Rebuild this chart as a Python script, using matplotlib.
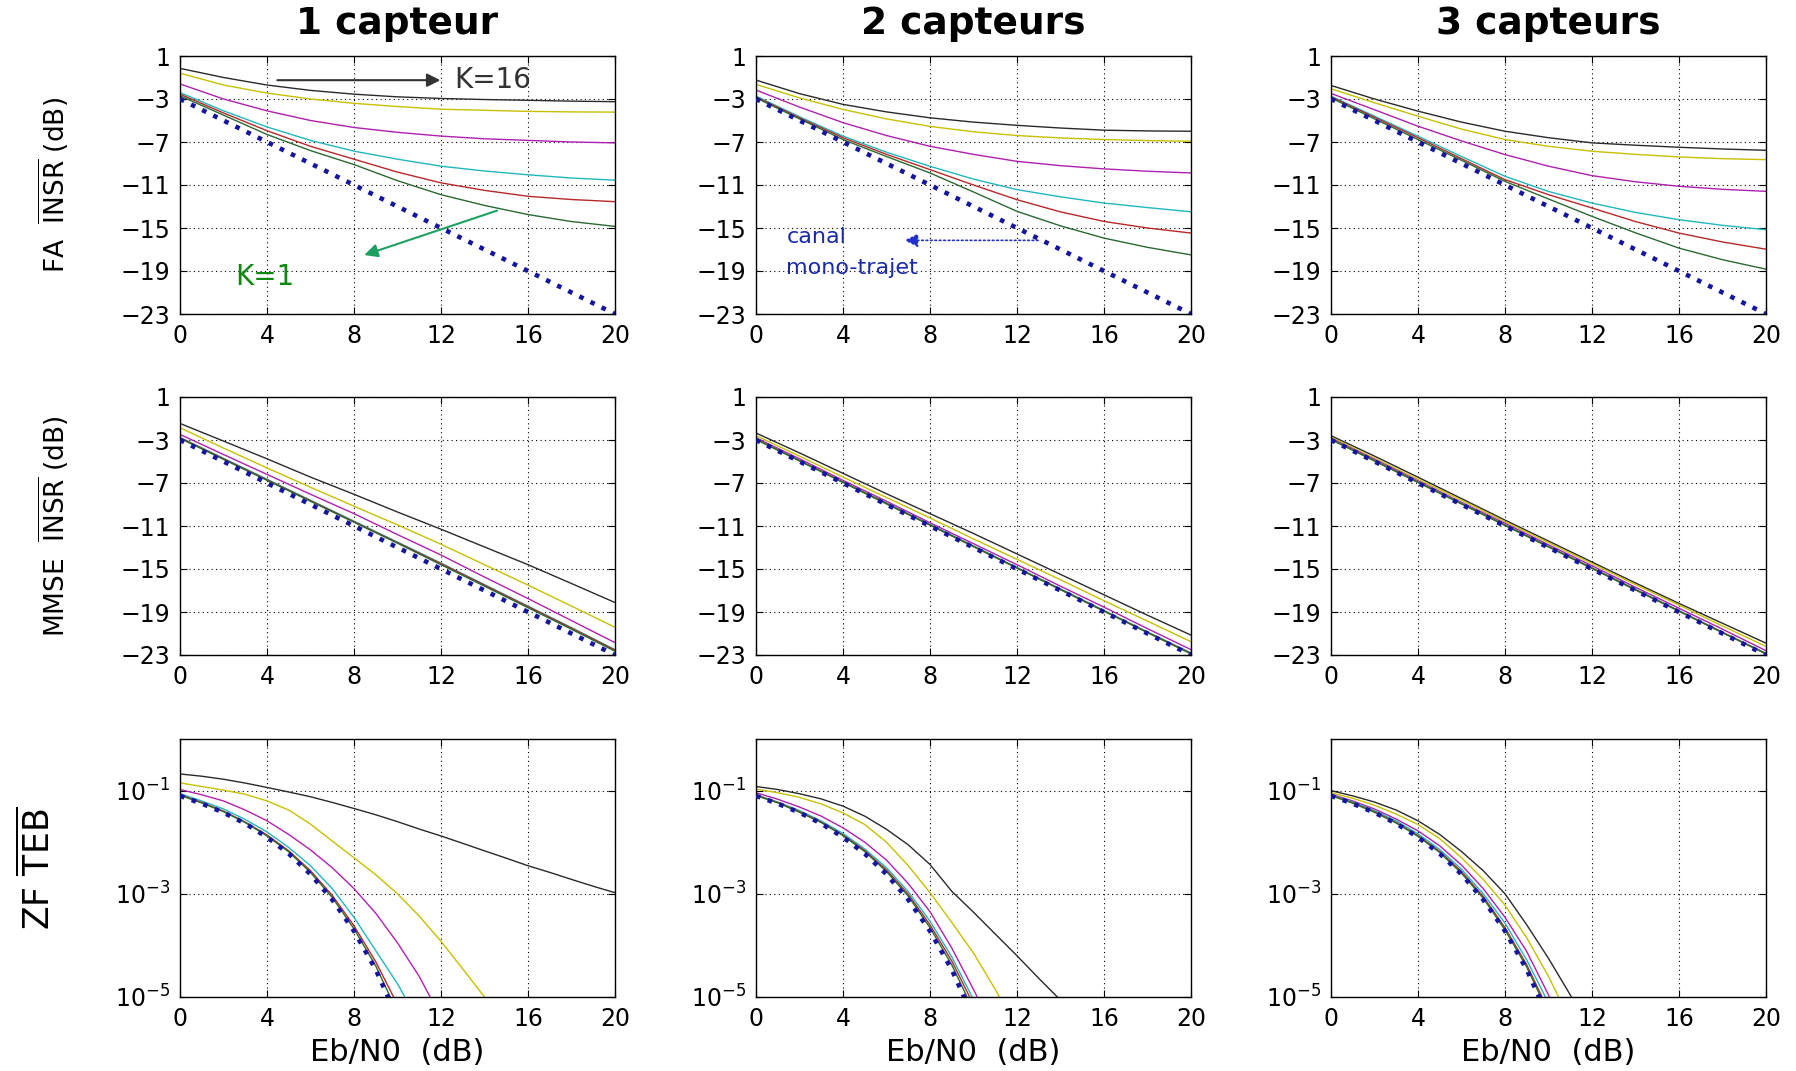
import matplotlib
matplotlib.use('Agg')
import matplotlib.pyplot as plt

plt.rcParams['font.family'] = ['DejaVu Sans']
plt.rcParams['mathtext.fontset'] = 'dejavusans'

# ---- data ----
titles = ['1 capteur', '2 capteurs', '3 capteurs']
curve_colors = ['#2a2a2a', '#c8c000', '#b020b0', '#20b8c0', '#b82828', '#2a6a30']  # K=16 ... K=1
mono_color = '#1515a0'

x_db = [0, 2, 4, 6, 8, 10, 12, 14, 16, 18, 20]
mono_x = [0, 20]
mono_db = [-3, -23]

# FA : INSR (dB), curves K=16 -> K=1
fa_1 = [
    [-0.15, -1.0, -1.7, -2.2, -2.55, -2.8, -2.95, -3.05, -3.12, -3.2, -3.25],
    [-0.6, -1.7, -2.45, -3.0, -3.4, -3.7, -3.95, -4.05, -4.15, -4.2, -4.22],
    [-1.6, -3.0, -4.1, -5.0, -5.65, -6.1, -6.45, -6.7, -6.85, -7.0, -7.08],
    [-2.4, -4.1, -5.6, -6.85, -7.85, -8.6, -9.25, -9.7, -10.05, -10.35, -10.55],
    [-2.55, -4.3, -5.95, -7.4, -8.6, -9.8, -10.8, -11.5, -12.05, -12.35, -12.55],
    [-2.7, -4.5, -6.3, -7.8, -9.1, -10.6, -11.9, -12.9, -13.75, -14.4, -14.85],
]
fa_2 = [
    [-1.24, -2.5, -3.5, -4.2, -4.75, -5.15, -5.45, -5.7, -5.9, -5.97, -6.0],
    [-1.64, -2.9, -3.97, -4.85, -5.55, -6.05, -6.4, -6.62, -6.77, -6.87, -6.93],
    [-2.17, -3.75, -5.2, -6.4, -7.4, -8.15, -8.8, -9.2, -9.5, -9.72, -9.88],
    [-2.73, -4.65, -6.46, -7.95, -9.26, -10.45, -11.43, -12.1, -12.68, -13.1, -13.49],
    [-2.8, -4.75, -6.6, -8.15, -9.57, -11.0, -12.37, -13.5, -14.39, -15.0, -15.47],
    [-2.9, -4.85, -6.77, -8.35, -9.88, -11.65, -13.45, -14.8, -15.94, -16.8, -17.5],
]
fa_3 = [
    [-1.74, -3.0, -4.13, -5.15, -6.0, -6.6, -7.08, -7.3, -7.49, -7.65, -7.77],
    [-2.05, -3.35, -4.6, -5.8, -6.77, -7.4, -7.86, -8.15, -8.39, -8.55, -8.64],
    [-2.48, -4.0, -5.53, -6.9, -8.17, -9.25, -10.13, -10.7, -11.12, -11.4, -11.59],
    [-2.73, -4.6, -6.46, -8.35, -10.19, -11.6, -12.68, -13.55, -14.23, -14.75, -15.16],
    [-2.8, -4.7, -6.6, -8.55, -10.5, -11.9, -13.14, -14.4, -15.47, -16.3, -16.97],
    [-2.9, -4.85, -6.77, -8.7, -10.66, -12.3, -13.92, -15.45, -16.87, -17.95, -18.83],
]

# MMSE : INSR (dB)
mmse_1 = [
    [-1.46, -3.1, -4.75, -6.45, -8.05, -9.7, -11.3, -12.95, -14.6, -16.35, -18.12],
    [-1.86, -3.75, -5.6, -7.4, -9.16, -10.9, -12.7, -14.6, -16.5, -18.45, -20.42],
    [-2.48, -4.35, -6.2, -8.05, -9.85, -11.8, -13.7, -15.75, -17.75, -19.8, -21.85],
    [-2.75, -4.7, -6.65, -8.6, -10.55, -12.5, -14.45, -16.45, -18.45, -20.45, -22.5],
    [-2.8, -4.75, -6.7, -8.65, -10.6, -12.55, -14.5, -16.5, -18.5, -20.5, -22.55],
    [-2.85, -4.8, -6.75, -8.7, -10.65, -12.6, -14.6, -16.6, -18.6, -20.6, -22.65],
]
mmse_2 = [
    [-2.35, -4.2, -6.1, -8.0, -9.85, -11.7, -13.6, -15.5, -17.4, -19.3, -21.15],
    [-2.6, -4.5, -6.45, -8.35, -10.25, -12.2, -14.1, -16.0, -17.95, -19.85, -21.76],
    [-2.8, -4.75, -6.75, -8.7, -10.7, -12.65, -14.6, -16.6, -18.55, -20.55, -22.5],
    [-2.9, -4.9, -6.9, -8.85, -10.85, -12.85, -14.85, -16.85, -18.85, -20.85, -22.8],
    [-2.92, -4.92, -6.92, -8.9, -10.9, -12.9, -14.9, -16.9, -18.9, -20.9, -22.85],
    [-2.95, -4.95, -6.95, -8.95, -10.92, -12.92, -14.92, -16.92, -18.92, -20.92, -22.9],
]
mmse_3 = [
    [-2.6, -4.5, -6.46, -8.45, -10.45, -12.4, -14.35, -16.3, -18.2, -20.05, -21.9],
    [-2.75, -4.7, -6.65, -8.6, -10.6, -12.55, -14.5, -16.45, -18.35, -20.3, -22.2],
    [-2.85, -4.8, -6.8, -8.8, -10.75, -12.75, -14.7, -16.7, -18.65, -20.6, -22.6],
    [-2.92, -4.9, -6.9, -8.88, -10.88, -12.88, -14.88, -16.88, -18.88, -20.88, -22.85],
    [-2.94, -4.93, -6.93, -8.92, -10.92, -12.92, -14.92, -16.92, -18.9, -20.9, -22.88],
    [-2.96, -4.95, -6.95, -8.95, -10.95, -12.95, -14.95, -16.95, -18.93, -20.93, -22.9],
]

# ZF : TEB, 1 dB steps from 0 dB
ber_x = list(range(21))
ber_mono = [0.079, 0.056, 0.0375, 0.023, 0.0125, 0.006, 0.0024, 7.7e-4, 1.9e-4, 3.4e-5, 3.9e-6]
ber_1 = [
    [0.21, 0.19, 0.166, 0.14, 0.115, 0.094, 0.076, 0.059, 0.045, 0.034, 0.025, 0.018, 0.0132,
     0.0095, 0.0068, 0.0049, 0.0035, 0.0026, 0.0019, 0.0014, 0.00105],
    [0.141, 0.12, 0.102, 0.085, 0.063, 0.042, 0.0224, 0.0105, 0.005, 0.00234, 0.001, 3.7e-4,
     1.2e-4, 3.5e-5, 1e-5, 2.6e-6],
    [0.105, 0.083, 0.063, 0.042, 0.026, 0.0141, 0.0071, 0.0032, 0.00126, 4.2e-4, 1.12e-4, 2.5e-5, 4.0e-6],
    [0.087, 0.063, 0.044, 0.0275, 0.0158, 0.0079, 0.0035, 0.00126, 3.5e-4, 7.9e-5, 1.8e-5, 3.2e-6],
    [0.083, 0.059, 0.04, 0.0245, 0.0138, 0.0068, 0.0028, 9.3e-4, 2.4e-4, 4.8e-5, 7.1e-6],
    [0.081, 0.0575, 0.039, 0.024, 0.0132, 0.0065, 0.0026, 8.5e-4, 2.1e-4, 4e-5, 5e-6],
]
ber_2 = [
    [0.12, 0.105, 0.087, 0.069, 0.05, 0.032, 0.0178, 0.0089, 0.0037, 0.00112, 4.4e-4, 1.66e-4,
     6.3e-5, 2.3e-5, 8.7e-6],
    [0.107, 0.091, 0.074, 0.055, 0.037, 0.022, 0.01, 0.0035, 0.00105, 2.8e-4, 7.1e-5, 1.4e-5, 2.5e-6],
    [0.091, 0.068, 0.048, 0.032, 0.019, 0.01, 0.0045, 0.00158, 4.5e-4, 8.9e-5, 1.4e-5, 2.0e-6],
    [0.083, 0.06, 0.041, 0.0257, 0.0148, 0.0074, 0.0032, 0.0011, 2.95e-4, 6e-5, 8.9e-6],
    [0.081, 0.059, 0.039, 0.0245, 0.0138, 0.0069, 0.0029, 9.8e-4, 2.5e-4, 5e-5, 7.1e-6],
    [0.08, 0.058, 0.038, 0.024, 0.0134, 0.0066, 0.0027, 9e-4, 2.2e-4, 4.2e-5, 5.5e-6],
]
ber_3 = [
    [0.1, 0.079, 0.06, 0.042, 0.026, 0.0141, 0.0066, 0.0028, 0.001, 2.5e-4, 5.6e-5, 1.1e-5, 2e-6],
    [0.091, 0.071, 0.052, 0.035, 0.022, 0.0117, 0.005, 0.0019, 6e-4, 1.4e-4, 2.5e-5, 3.5e-6],
    [0.085, 0.063, 0.044, 0.028, 0.0166, 0.0085, 0.0036, 0.00126, 3.5e-4, 7.6e-5, 1.1e-5, 1.2e-6],
    [0.083, 0.06, 0.041, 0.0257, 0.0145, 0.0072, 0.003, 0.001, 2.7e-4, 5.2e-5, 7.6e-6],
    [0.081, 0.058, 0.039, 0.024, 0.0134, 0.0066, 0.0027, 8.8e-4, 2.2e-4, 4.2e-5, 5.5e-6],
    [0.08, 0.057, 0.038, 0.0235, 0.013, 0.0063, 0.0025, 8.2e-4, 2e-4, 3.8e-5, 4.8e-6],
]

db_ticks = [1, -3, -7, -11, -15, -19, -23]
x_ticks = [0, 4, 8, 12, 16, 20]
ber_ticks = [1e-1, 1e-3, 1e-5]
ber_ticklabels = [r'$10^{-1}$', r'$10^{-3}$', r'$10^{-5}$']

fa_data = [fa_1, fa_2, fa_3]
mmse_data = [mmse_1, mmse_2, mmse_3]
ber_data = [ber_1, ber_2, ber_3]

# ---- layout (pixel positions of the reference) ----
W, H = 1796, 1071
fig = plt.figure(figsize=(W / 100, H / 100), dpi=100)
col_left = [180, 756, 1331]
ax_w = 435
row_top = [56, 397, 739]
ax_h = 258

def make_ax(r, c):
    ax = fig.add_axes([col_left[c] / W, 1 - (row_top[r] + ax_h) / H, ax_w / W, ax_h / H])
    ax.set_xlim(0, 20)
    ax.set_xticks(x_ticks)
    ax.tick_params(direction='in', length=5, top=True, right=True, labelsize=17, width=0.8)
    ax.tick_params(axis='y', pad=7)
    ax.tick_params(axis='x', pad=7)
    for s in ax.spines.values():
        s.set_linewidth(1.0)
    ax.grid(True, color='black', linestyle=(0, (1, 3)), linewidth=0.8)
    return ax

def dotted_mono(ax, x, y):
    ax.plot(x, y, color=mono_color, linewidth=3.3, linestyle=(0, (1.0, 1.7)),
            dash_capstyle='butt', zorder=4)

for c in range(3):
    # row 1 : FA
    ax = make_ax(0, c)
    for vals, col in zip(fa_data[c], curve_colors):
        ax.plot(x_db, vals, color=col, linewidth=1.0)
    dotted_mono(ax, mono_x, mono_db)
    ax.set_ylim(-23, 1)
    ax.set_yticks(db_ticks)
    ax.text(0.5, 1 + 32 / ax_h, titles[c], transform=ax.transAxes, ha='center', va='center',
            fontsize=27, fontweight='bold')
    if c == 0:
        ax.set_ylabel(r'FA  $\overline{\mathrm{INSR}}$ (dB)', fontsize=19)
        ax.yaxis.set_label_coords(-109 / ax_w, 0.5)
        ax.annotate('', xy=(12.1, -1.25), xytext=(4.35, -1.25),
                    arrowprops=dict(arrowstyle='-|>', color='#333333', lw=1.5, mutation_scale=20))
        ax.text(12.6, -1.25, 'K=16', color='#333333', fontsize=20, ha='left', va='center')
        ax.annotate('', xy=(8.35, -17.6), xytext=(14.7, -13.3),
                    arrowprops=dict(arrowstyle='-|>', color='#20a060', lw=1.5, mutation_scale=20))
        ax.text(3.9, -19.6, 'K=1', color='#118811', fontsize=20, ha='center', va='center')
    if c == 1:
        ax.annotate('', xy=(6.7, -16.15), xytext=(13.1, -16.15),
                    arrowprops=dict(arrowstyle='-|>', color='#2030c8', lw=1.2, linestyle=':',
                                    mutation_scale=20))
        ax.text(1.4, -15.8, 'canal', color='#1a2aa8', fontsize=16, ha='left', va='center')
        ax.text(1.4, -18.7, 'mono-trajet', color='#1a2aa8', fontsize=16, ha='left', va='center')

    # row 2 : MMSE
    ax = make_ax(1, c)
    for vals, col in zip(mmse_data[c], curve_colors):
        ax.plot(x_db, vals, color=col, linewidth=1.0)
    dotted_mono(ax, mono_x, mono_db)
    ax.set_ylim(-23, 1)
    ax.set_yticks(db_ticks)
    if c == 0:
        ax.set_ylabel(r'MMSE  $\overline{\mathrm{INSR}}$ (dB)', fontsize=19)
        ax.yaxis.set_label_coords(-109 / ax_w, 0.5)

    # row 3 : ZF
    ax = make_ax(2, c)
    for vals, col in zip(ber_data[c], curve_colors):
        ax.plot(ber_x[:len(vals)], vals, color=col, linewidth=1.0)
    dotted_mono(ax, ber_x[:len(ber_mono)], ber_mono)
    ax.set_yscale('log')
    ax.set_ylim(1e-5, 1)
    ax.set_yticks(ber_ticks)
    ax.set_yticklabels(ber_ticklabels)
    ax.minorticks_off()
    ax.set_xlabel('Eb/N0  (dB)', fontsize=22)
    ax.xaxis.set_label_coords(0.5, -0.16)
    if c == 0:
        ax.set_ylabel(r'ZF $\overline{\mathrm{TEB}}$', fontsize=25)
        ax.yaxis.set_label_coords(-123 / ax_w, 0.5)

fig.savefig('out.png', dpi=100, facecolor='white')
